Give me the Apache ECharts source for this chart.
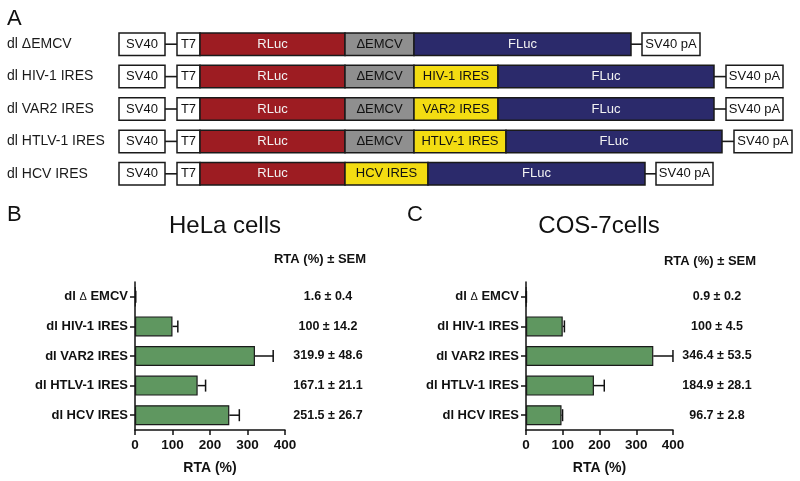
<!DOCTYPE html>
<html>
<head>
<meta charset="utf-8">
<script src="https://cdn.jsdelivr.net/npm/echarts@6/dist/echarts.min.js"></script>
<style>html,body{margin:0;padding:0;background:#fff;}#c{width:800px;height:481px;}</style>
</head>
<body>
<div id="c"></div>
<script>
// ---------- Panel A: construct schematics ----------
const constructs = ['dl ΔEMCV', 'dl HIV-1 IRES', 'dl VAR2 IRES', 'dl HTLV-1 IRES', 'dl HCV IRES'];
const layouts = [
  ['SV40', 'link', 'T7', 'RLuc', 'ΔEMCV', 'FLuc', 'link', 'SV40 pA'],
  ['SV40', 'link', 'T7', 'RLuc', 'ΔEMCV', 'HIV-1 IRES', 'FLuc', 'link', 'SV40 pA'],
  ['SV40', 'link', 'T7', 'RLuc', 'ΔEMCV', 'VAR2 IRES', 'FLuc', 'link', 'SV40 pA'],
  ['SV40', 'link', 'T7', 'RLuc', 'ΔEMCV', 'HTLV-1 IRES', 'FLuc', 'link', 'SV40 pA'],
  ['SV40', 'link', 'T7', 'RLuc', 'HCV IRES', 'FLuc', 'link', 'SV40 pA']
];
const featureLengths = [
  [46, 12, 23, 145, 69, 217, 11, 58],
  [46, 12, 23, 145, 69, 84, 216, 12, 57],
  [46, 12, 23, 145, 69, 84, 216, 12, 57],
  [46, 12, 23, 145, 69, 92, 216, 12, 58],
  [46, 12, 23, 145, 83, 217, 11, 57]
];

// ---------- Panels B & C: RTA data ----------
const barCategories = ['dl Δ EMCV', 'dl HIV-1 IRES', 'dl VAR2 IRES', 'dl HTLV-1 IRES', 'dl HCV IRES'];
const helaRTA = [1.6, 100, 319.9, 167.1, 251.5];
const helaSEM = [0.4, 14.2, 48.6, 21.1, 26.7];
const cosRTA = [0.9, 100, 346.4, 184.9, 96.7];
const cosSEM = [0.2, 4.5, 53.5, 28.1, 2.8];
const xTicks = [0, 100, 200, 300, 400];

const FONT = "'Liberation Sans', Arial, Helvetica, sans-serif";
const featureStyle = {
  'SV40':    {fill: '#ffffff', text: '#111111'},
  'T7':      {fill: '#ffffff', text: '#111111'},
  'SV40 pA': {fill: '#ffffff', text: '#111111'},
  'RLuc':    {fill: '#9d1c22', text: '#f2f2f2'},
  'ΔEMCV':   {fill: '#8f8f8f', text: '#111111'},
  'FLuc':    {fill: '#2b2a6b', text: '#f2f2f2'},
  'HIV-1 IRES':  {fill: '#f3dc12', text: '#111111'},
  'VAR2 IRES':   {fill: '#f3dc12', text: '#111111'},
  'HTLV-1 IRES': {fill: '#f3dc12', text: '#111111'},
  'HCV IRES':    {fill: '#f3dc12', text: '#111111'}
};

// Build schematic data from the arrays (cumulative positions)
const schemaData = [];
layouts.forEach((row, r) => {
  let pos = 0;
  row.forEach((feat, k) => {
    const len = featureLengths[r][k];
    schemaData.push({name: feat, value: [r, pos, pos + len]});
    pos += len;
  });
});

function renderSchema(params, api) {
  const item = schemaData[params.dataIndex];
  const row = api.value(0);
  const p0 = api.coord([api.value(1), row]);
  const p1 = api.coord([api.value(2), row]);
  const h = 22.5;
  if (item.name === 'link') {
    return {type: 'line', shape: {x1: p0[0], y1: p0[1], x2: p1[0], y2: p1[1]},
      style: {stroke: '#1a1a1a', lineWidth: 1.6}};
  }
  const st = featureStyle[item.name];
  return {
    type: 'rect',
    shape: {x: p0[0], y: p0[1] - h / 2, width: p1[0] - p0[0], height: h},
    style: {fill: st.fill, stroke: '#1a1a1a', lineWidth: 1.5},
    textContent: {style: {text: item.name, fill: st.text, font: '13px ' + FONT}},
    textConfig: {position: 'inside'}
  };
}

function errorRenderer() {
  return function (params, api) {
    const i = api.value(1);
    const a = api.coord([api.value(0), i]);
    const b = api.coord([api.value(0) + api.value(2), i]);
    const cap = 6;
    return {type: 'group', children: [
      {type: 'line', shape: {x1: a[0], y1: a[1], x2: b[0], y2: b[1]}, style: {stroke: '#111', lineWidth: 1.5}},
      {type: 'line', shape: {x1: b[0], y1: b[1] - cap, x2: b[0], y2: b[1] + cap}, style: {stroke: '#111', lineWidth: 1.5}}
    ]};
  };
}

const axisLineStyle = {show: true, lineStyle: {color: '#111', width: 1.5}};

function valueXAxis(gridIndex) {
  return {
    gridIndex, type: 'value', min: 0, max: 400, interval: 100,
    axisLine: axisLineStyle,
    axisTick: {show: true, length: 5, lineStyle: {color: '#111', width: 1.5}},
    axisLabel: {color: '#111', fontWeight: 'bold', fontSize: 13.5, fontFamily: FONT, margin: 8,
      formatter: v => xTicks.indexOf(v) >= 0 ? String(v) : ''},
    splitLine: {show: false},
    name: 'RTA (%)', nameLocation: 'middle', nameGap: 31,
    nameTextStyle: {color: '#111', fontWeight: 'bold', fontSize: 14, fontFamily: FONT}
  };
}
function catYAxis(gridIndex) {
  return {
    gridIndex, type: 'category', inverse: true, data: barCategories,
    axisLine: axisLineStyle,
    axisTick: {show: true, length: 5, alignWithLabel: true, lineStyle: {color: '#111', width: 1.5}},
    axisLabel: {color: '#111', fontWeight: 'bold', fontSize: 13, fontFamily: FONT, margin: 7,
      formatter: v => v.replace('Δ', '{d|Δ}'),
      rich: {d: {fontSize: 11, fontWeight: 'normal', color: '#111', fontFamily: FONT}}}
  };
}
function valueColumnAxis(gridIndex, vals, sems, margin) {
  return {
    gridIndex, type: 'category', inverse: true, position: 'right',
    data: vals.map((v, i) => v + ' ± ' + sems[i]),
    axisLine: {show: false}, axisTick: {show: false},
    axisLabel: {color: '#111', fontWeight: 'bold', fontSize: 12.5, fontFamily: FONT, align: 'center', margin: margin}
  };
}

const chart = echarts.init(document.getElementById('c'), null, {renderer: 'canvas'});
chart.setOption({
  backgroundColor: '#ffffff',
  animation: false,
  grid: [
    {left: 119, right: 8, top: 28, height: 162},
    {left: 135, top: 282, width: 150, height: 148},
    {left: 526, top: 282, width: 147, height: 148}
  ],
  xAxis: [
    {gridIndex: 0, type: 'value', min: 0, max: 673, show: false},
    valueXAxis(1),
    valueXAxis(2)
  ],
  yAxis: [
    {gridIndex: 0, type: 'category', inverse: true, data: constructs,
      axisLine: {show: false}, axisTick: {show: false}, splitLine: {show: false},
      axisLabel: {color: '#1a1a1a', fontSize: 14, fontFamily: FONT, align: 'left', margin: 112}},
    catYAxis(1),
    catYAxis(2),
    valueColumnAxis(1, helaRTA, helaSEM, 43),
    valueColumnAxis(2, cosRTA, cosSEM, 44)
  ],
  graphic: [
    {type: 'text', x: 7, y: 19, style: {text: 'A', font: '22px ' + FONT, fill: '#111', textVerticalAlign: 'middle'}},
    {type: 'text', x: 7, y: 215, style: {text: 'B', font: '22px ' + FONT, fill: '#111', textVerticalAlign: 'middle'}},
    {type: 'text', x: 407, y: 215, style: {text: 'C', font: '22px ' + FONT, fill: '#111', textVerticalAlign: 'middle'}},
    {type: 'text', x: 225, y: 226, style: {text: 'HeLa cells', font: '24px ' + FONT, fill: '#111', textAlign: 'center', textVerticalAlign: 'middle'}},
    {type: 'text', x: 599, y: 226, style: {text: 'COS-7cells', font: '24px ' + FONT, fill: '#111', textAlign: 'center', textVerticalAlign: 'middle'}},
    {type: 'text', x: 320, y: 259, style: {text: 'RTA (%) ± SEM', font: 'bold 13px ' + FONT, fill: '#111', textAlign: 'center', textVerticalAlign: 'middle'}},
    {type: 'text', x: 710, y: 261, style: {text: 'RTA (%) ± SEM', font: 'bold 13px ' + FONT, fill: '#111', textAlign: 'center', textVerticalAlign: 'middle'}}
  ],
  series: [
    {type: 'custom', xAxisIndex: 0, yAxisIndex: 0, renderItem: renderSchema, data: schemaData, encode: {x: [1, 2], y: 0}, silent: true},
    {type: 'bar', xAxisIndex: 1, yAxisIndex: 1, data: helaRTA, barWidth: 20,
      itemStyle: {color: '#5f9760', borderColor: '#1a1a1a', borderWidth: 1.2}},
    {type: 'custom', xAxisIndex: 1, yAxisIndex: 1, renderItem: errorRenderer(),
      data: helaRTA.map((v, i) => [v, i, helaSEM[i]]), encode: {x: 0, y: 1}, z: 3},
    {type: 'bar', xAxisIndex: 2, yAxisIndex: 2, data: cosRTA, barWidth: 20,
      itemStyle: {color: '#5f9760', borderColor: '#1a1a1a', borderWidth: 1.2}},
    {type: 'custom', xAxisIndex: 2, yAxisIndex: 2, renderItem: errorRenderer(),
      data: cosRTA.map((v, i) => [v, i, cosSEM[i]]), encode: {x: 0, y: 1}, z: 3}
  ]
});
</script>
</body>
</html>
